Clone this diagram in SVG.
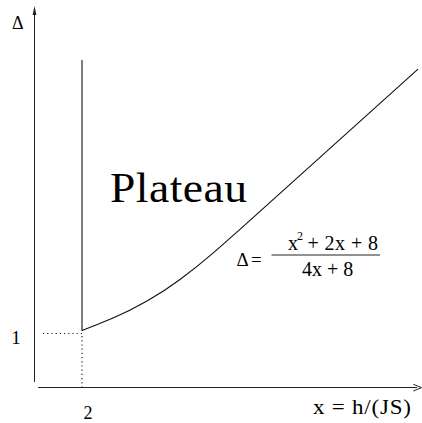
<svg xmlns="http://www.w3.org/2000/svg" width="422" height="423" viewBox="0 0 422 423">
<style>
.ax{stroke:#222;stroke-width:1;fill:none}
.ln{stroke:#111;stroke-width:1.1;fill:none}
.dot{stroke:#222;stroke-width:1.2;fill:none;stroke-dasharray:1.2 3}
text{fill:#000}
</style>
<rect width="422" height="423" fill="#fff"/>
<g id="connectors">
<line class="ax" x1="34.5" y1="10" x2="34.5" y2="382"/>
<polygon points="34.5,6 32.6,15 36.4,15" fill="#222"/>
<line class="ax" x1="38" y1="387.5" x2="417" y2="387.5"/>
<polyline class="ax" points="413.3,384.3 421.5,387.6 413.3,391"/>
<line class="ln" x1="82" y1="60" x2="82" y2="331"/>
<path class="ln" d="M82,330.5 C92.33,326.68 102.67,322.54 113,318.1 C124.33,313.23 135.67,307.56 147,301.1 C158,294.83 169,287.64 180,279.5 C191,271.36 202,262.56 213,253.1 C225.33,242.5 237.67,231.5 250,220.4 C306,170 362,119.6 418,69.2"/>
<line class="dot" x1="43" y1="333.5" x2="82" y2="333.5"/>
<line class="dot" x1="82" y1="336" x2="82" y2="388"/>
</g>
<g id="axis-labels" font-family="Liberation Serif, Times New Roman, serif">
<text x="12" y="29" font-size="18">Δ</text>
<text x="16" y="344" font-size="19" text-anchor="middle">1</text>
<text x="88" y="419" font-size="18" text-anchor="middle">2</text>
<text transform="translate(313,414) scale(1.15,1)" x="0" y="0" font-size="20" textLength="85.2" lengthAdjust="spacing">x = h/(JS)</text>
</g>
<g id="plateau" font-family="Liberation Serif, Times New Roman, serif">
<text transform="translate(110,201.5) scale(1.06,1)" x="0" y="0" font-size="43" textLength="129.2" lengthAdjust="spacing">Plateau</text>
</g>
<g id="formula" font-family="Liberation Serif, Times New Roman, serif">
<text x="236.5" y="266" font-size="19">Δ</text>
<text x="251" y="266" font-size="19">=</text>
<line x1="271.5" y1="255" x2="380" y2="255" stroke="#222" stroke-width="1"/>
<text x="288" y="250" font-size="20">x</text>
<text x="297" y="240" font-size="12">2</text>
<text x="307.5" y="250" font-size="20" textLength="70.5" lengthAdjust="spacing">+ 2x + 8</text>
<text x="302" y="276" font-size="20">4x + 8</text>
</g>
</svg>
